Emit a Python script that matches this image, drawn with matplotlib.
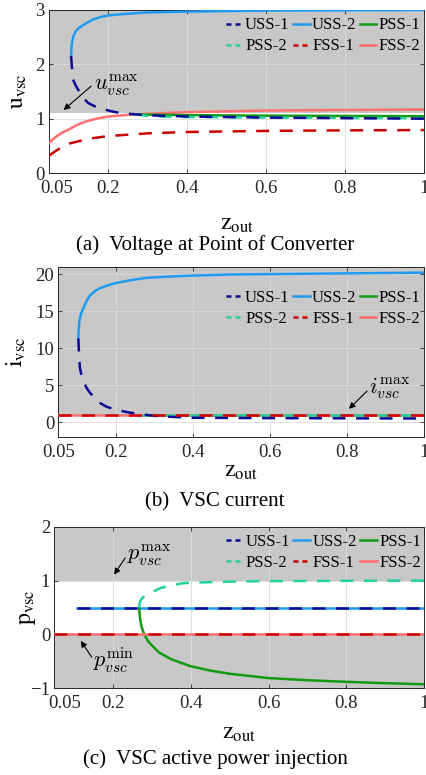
import numpy as np
import matplotlib
matplotlib.use("Agg")
import matplotlib.pyplot as plt
from matplotlib.lines import Line2D
from matplotlib.transforms import ScaledTranslation

plt.rcParams["font.family"] = ["Liberation Serif", "DejaVu Serif"]
plt.rcParams["mathtext.fontset"] = "cm"

# ---------------- data ----------------
NAMES = ["USS-1", "USS-2", "PSS-1", "PSS-2", "FSS-1", "FSS-2"]

# (a) voltage at point of converter
a_uss1_z = [0.106, 0.108, 0.111, 0.117, 0.124, 0.135, 0.149, 0.165, 0.182, 0.205, 0.233, 0.27, 0.31, 0.4, 0.5, 0.6, 0.8, 1.0]
a_uss1_u = [2.15, 1.95, 1.72, 1.62, 1.53, 1.40, 1.29, 1.23, 1.19, 1.14, 1.10, 1.08, 1.06, 1.04, 1.03, 1.02, 1.01, 1.00]
a_uss2_z = [0.106, 0.107, 0.109, 0.112, 0.117, 0.124, 0.132, 0.145, 0.16, 0.18, 0.2, 0.23, 0.266, 0.3, 0.4, 0.5, 0.6, 0.8, 1.0]
a_uss2_u = [2.15, 2.32, 2.43, 2.52, 2.60, 2.66, 2.70, 2.76, 2.82, 2.87, 2.90, 2.92, 2.94, 2.955, 2.97, 2.98, 2.99, 2.995, 3.0]
a_pss1_z = [0.268, 0.3, 0.4, 0.6, 0.8, 1.0]
a_pss1_u = [1.08, 1.075, 1.065, 1.055, 1.05, 1.045]
a_pss2_z = [0.268, 0.3, 0.35, 0.4, 0.6, 0.8, 1.0]
a_pss2_u = [1.08, 1.05, 1.035, 1.03, 1.02, 1.015, 1.01]
a_fss1_z = [0.05, 0.07, 0.1, 0.15, 0.2, 0.3, 0.4, 0.6, 0.8, 1.0]
a_fss1_u = [0.32, 0.42, 0.54, 0.63, 0.68, 0.73, 0.755, 0.775, 0.785, 0.79]
a_fss2_z = [0.05, 0.06, 0.07, 0.085, 0.1, 0.12, 0.14, 0.17, 0.2, 0.25, 0.3, 0.4, 0.6, 0.8, 1.0]
a_fss2_u = [0.55, 0.62, 0.68, 0.75, 0.80, 0.88, 0.94, 1.00, 1.04, 1.07, 1.09, 1.12, 1.15, 1.16, 1.17]
u_max = 1.1

# (b) VSC current
b_uss1_z = [0.102, 0.104, 0.106, 0.11, 0.114, 0.119, 0.125, 0.132, 0.145, 0.158, 0.175, 0.197, 0.23, 0.261, 0.3, 0.35, 0.4, 0.6, 0.8, 1.0]
b_uss1_i = [11.3, 9.1, 7.4, 6.4, 5.7, 5.1, 4.5, 4.0, 3.2, 2.6, 2.1, 1.7, 1.35, 1.1, 0.85, 0.7, 0.6, 0.55, 0.52, 0.5]
b_uss2_z = [0.102, 0.103, 0.105, 0.108, 0.115, 0.124, 0.132, 0.145, 0.158, 0.18, 0.2, 0.24, 0.28, 0.35, 0.4, 0.5, 0.6, 0.8, 1.0]
b_uss2_i = [11.3, 12.6, 13.7, 14.5, 15.4, 16.4, 17.1, 17.7, 18.1, 18.5, 18.8, 19.2, 19.5, 19.7, 19.8, 19.95, 20.0, 20.1, 20.2]
b_pss_z = [0.268, 1.0]
b_pss_i = [1.0, 1.0]
b_fss_z = [0.05, 1.0]
b_fss_i = [1.0, 1.0]
i_max = 1.0

# (c) VSC active power injection
c_uss_z = [0.108, 1.0]
c_uss_p = [0.5, 0.5]
c_pss1_z = [0.268, 0.269, 0.271, 0.275, 0.28, 0.29, 0.3, 0.32, 0.35, 0.4, 0.45, 0.5, 0.6, 0.7, 0.8, 0.9, 1.0]
c_pss1_p = [0.5, 0.38, 0.25, 0.12, 0.02, -0.12, -0.2, -0.34, -0.46, -0.59, -0.67, -0.73, -0.81, -0.85, -0.88, -0.905, -0.925]
c_pss2_z = [0.268, 0.269, 0.272, 0.278, 0.2875, 0.3, 0.322, 0.35, 0.38, 0.4, 0.5, 0.6, 0.8, 1.0]
c_pss2_p = [0.5, 0.58, 0.64, 0.69, 0.73, 0.78, 0.86, 0.91, 0.95, 0.96, 0.98, 0.99, 0.995, 1.0]
c_fss_z = [0.05, 1.0]
c_fss_p = [0.0, 0.0]
p_max, p_min = 1.0, 0.0

XTICKS = [0.05, 0.2, 0.4, 0.6, 0.8, 1.0]
XTICKLABELS = ["0.05", "0.2", "0.4", "0.6", "0.8", "1"]

# ---------------- styles ----------------
STYLE = {
    "USS-1": dict(color="#0A0A96", dashed=True),
    "USS-2": dict(color="#1E9BF0", dashed=False),
    "PSS-1": dict(color="#129A12", dashed=False),
    "PSS-2": dict(color="#22D3A0", dashed=True),
    "FSS-1": dict(color="#CC0000", dashed=True),
    "FSS-2": dict(color="#FF7070", dashed=False),
}
GRAY = "#C8C8C8"
LW = 1.8
W, H = 426, 775


def px_axes(fig, l, t, r, b):
    return fig.add_axes([l / W, 1 - b / H, (r - l) / W, (b - t) / H])


def draw(ax, name, z, v):
    st = STYLE[name]
    if st["dashed"]:
        ax.plot(z, v, color=st["color"], lw=LW, dashes=(5.2, 4.2), zorder=4)
    else:
        ax.plot(z, v, color=st["color"], lw=LW, zorder=3)


def style_axes(ax, ylim, yticks, first_dx=0):
    ax.set_xlim(0.05, 1.0)
    ax.set_ylim(*ylim)
    ax.set_xticks(XTICKS)
    ax.set_xticklabels(XTICKLABELS)
    ax.set_yticks(yticks)
    ax.tick_params(direction="in", length=3, width=0.6, labelsize=13.5,
                   top=True, right=True, colors="#262626")
    ax.tick_params(axis="x", pad=5)
    ax.tick_params(axis="y", pad=3)
    for s in ax.spines.values():
        s.set_color("#262626")
        s.set_linewidth(0.7)
    ax.set_axisbelow("line")
    ax.grid(True, color="#DCDCDC", lw=0.6)
    if first_dx:
        lbl = ax.get_xticklabels()[0]
        lbl.set_transform(lbl.get_transform() +
                          ScaledTranslation(first_dx / 100, 0, fig.dpi_scale_trans))


def legend(ax, yanchor):
    handles = {}
    for n in NAMES:
        st = STYLE[n]
        if st["dashed"]:
            handles[n] = Line2D([], [], color=st["color"], lw=LW, dashes=(2.0, 1.6))
        else:
            handles[n] = Line2D([], [], color=st["color"], lw=LW)
    # fill row-wise: 3 columns x 2 rows
    order = [NAMES[0], NAMES[3], NAMES[1], NAMES[4], NAMES[2], NAMES[5]]
    ax.legend([handles[n] for n in order], order, loc="upper right",
              bbox_to_anchor=(1.0, yanchor), ncol=3, frameon=False,
              fontsize=12, handlelength=1.0, handletextpad=0.15,
              columnspacing=0.2, labelspacing=0.3, borderaxespad=0.0,
              borderpad=0.2)


def annot(ax, txt, xy, xytext, tx, ty):
    ax.annotate("", xy=xy, xytext=xytext,
                arrowprops=dict(arrowstyle="-|>", color="black", lw=0.8,
                                mutation_scale=9, shrinkA=0, shrinkB=0),
                zorder=6)
    ax.text(tx, ty, txt, fontsize=16, ha="left", va="center", zorder=6)


fig = plt.figure(figsize=(W / 100, H / 100), dpi=100)

# ----- (a) -----
ax = px_axes(fig, 49, 10, 424, 173)
ax.axhspan(u_max, 3, color=GRAY, lw=0, zorder=1)
draw(ax, "FSS-2", a_fss2_z, a_fss2_u)
draw(ax, "PSS-1", a_pss1_z, a_pss1_u)
draw(ax, "USS-2", a_uss2_z, a_uss2_u)
draw(ax, "PSS-2", a_pss2_z, a_pss2_u)
draw(ax, "USS-1", a_uss1_z, a_uss1_u)
draw(ax, "FSS-1", a_fss1_z, a_fss1_u)
style_axes(ax, (0, 3), [0, 1, 2, 3], first_dx=8)
legend(ax, 0.975)
annot(ax, r"$u_{vsc}^{\max}$", (0.087, 1.16), (0.157, 1.6), 0.163, 1.62)

# ----- (b) -----
ax = px_axes(fig, 58.3, 266.7, 424, 437)
ax.axhspan(i_max, 21, color=GRAY, lw=0, zorder=1)
draw(ax, "PSS-1", b_pss_z, b_pss_i)
draw(ax, "PSS-2", b_pss_z, b_pss_i)
draw(ax, "FSS-2", b_fss_z, b_fss_i)
draw(ax, "USS-2", b_uss2_z, b_uss2_i)
draw(ax, "USS-1", b_uss1_z, b_uss1_i)
draw(ax, "FSS-1", b_fss_z, b_fss_i)
style_axes(ax, (-2, 21), [0, 5, 10, 15, 20])
legend(ax, 0.885)
annot(ax, r"$i_{vsc}^{\max}$", (0.805, 1.8), (0.852, 4.2), 0.857, 4.6)

# ----- (c) -----
ax = px_axes(fig, 54.3, 526.7, 424.3, 688.3)
ax.axhspan(p_max, 2, color=GRAY, lw=0, zorder=1)
ax.axhspan(-1, p_min, color=GRAY, lw=0, zorder=1)
draw(ax, "USS-2", c_uss_z, c_uss_p)
draw(ax, "USS-1", c_uss_z, c_uss_p)
draw(ax, "PSS-1", c_pss1_z, c_pss1_p)
draw(ax, "PSS-2", c_pss2_z, c_pss2_p)
draw(ax, "FSS-2", c_fss_z, c_fss_p)
draw(ax, "FSS-1", c_fss_z, c_fss_p)
style_axes(ax, (-1, 2), [-1, 0, 1, 2], first_dx=10)
legend(ax, 0.975)
annot(ax, r"$p_{vsc}^{\max}$", (0.2035, 1.11), (0.232, 1.42), 0.237, 1.47)
annot(ax, r"$p_{vsc}^{\min}$", (0.118, -0.12), (0.146, -0.42), 0.149, -0.47)

# ----- axis labels and captions -----
lab = dict(fontsize=17, math_fontfamily="stix", ha="center", va="center")
fig.text(19 / W, 1 - 91 / H, r"$\mathrm{u}_{\mathrm{vsc}}$", rotation=90, **lab)
fig.text(16 / W, 1 - 352 / H, r"$\mathrm{i}_{\mathrm{vsc}}$", rotation=90, **lab)
fig.text(27 / W, 1 - 607 / H, r"$\mathrm{p}_{\mathrm{vsc}}$", rotation=90, **lab)
fig.text(237 / W, 1 - 224 / H, r"$\mathrm{z}_{\mathrm{out}}$", **lab)
fig.text(241 / W, 1 - 471 / H, r"$\mathrm{z}_{\mathrm{out}}$", **lab)
fig.text(239 / W, 1 - 734 / H, r"$\mathrm{z}_{\mathrm{out}}$", **lab)

cap = dict(fontsize=15, ha="center", va="center")
fig.text(215 / W, 1 - 245 / H, "(a)  Voltage at Point of Converter", **cap)
fig.text(215 / W, 1 - 502 / H, "(b)  VSC current", **cap)
fig.text(215 / W, 1 - 759 / H, "(c)  VSC active power injection", **cap)

fig.savefig("out.png", dpi=100, facecolor="white")
